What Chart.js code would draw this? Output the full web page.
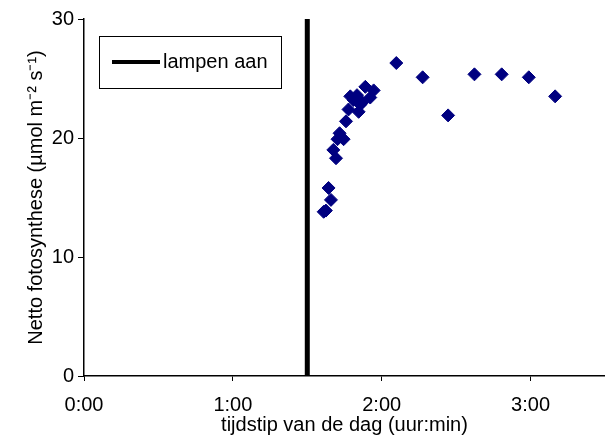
<!DOCTYPE html>
<html>
<head>
<meta charset="utf-8">
<script src="https://cdn.jsdelivr.net/npm/chart.js@4/dist/chart.umd.min.js"></script>
<style>
  html, body { margin: 0; padding: 0; background: #ffffff; overflow: hidden; }
  canvas { display: block; }
</style>
</head>
<body>
<canvas id="c" width="605" height="437" style="width:605px;height:437px"></canvas>
<script>
// time of day in hours (decimal)
const times = [1.610, 1.625, 1.643, 1.659, 1.675, 1.693, 1.703, 1.717, 1.744, 1.760,
               1.777, 1.789, 1.811, 1.834, 1.845, 1.856, 1.870, 1.890, 1.923, 1.946,
               2.098, 2.275, 2.446, 2.623, 2.806, 2.988, 3.165];
// net photosynthesis (µmol m-2 s-1)
const netPhoto = [13.8, 13.9, 15.8, 14.8, 19.0, 18.3, 19.9, 20.4, 19.9, 21.4,
                  22.4, 23.5, 23.2, 23.6, 22.2, 22.8, 23.0, 24.3, 23.4, 24.0,
                  26.3, 25.1, 21.9, 25.35, 25.35, 25.1, 23.5];
// moment the lamps were switched on (hours)
const lampsOnTime = [1.5, 1.5];
const lampsOnLevel = [0, 30];
const lampLabel = 'lampen aan';
const xTickValues = [0, 1, 2, 3];
const yTickValues = [0, 10, 20, 30];
const xTitle = 'tijdstip van de dag (uur:min)';
const yTitle = 'Netto fotosynthese (µmol m⁻² s⁻¹)';

const FONT = "'Liberation Sans', Arial, sans-serif";

function fmtTime(v) {
  const h = Math.floor(v + 1e-9);
  const m = Math.round((v - h) * 60);
  return h + ':' + String(m).padStart(2, '0');
}

const boxLegend = {
  id: 'boxLegend',
  afterDraw(chart) {
    const ctx = chart.ctx;
    const ds = chart.data.datasets[1];
    ctx.save();
    ctx.fillStyle = '#ffffff';
    ctx.fillRect(99.5, 36.5, 182, 52);
    ctx.strokeStyle = '#000000';
    ctx.lineWidth = 1;
    ctx.strokeRect(99.5, 36.5, 182, 52);
    ctx.beginPath();
    ctx.moveTo(112, 62);
    ctx.lineTo(160, 62);
    ctx.lineWidth = 4;
    ctx.strokeStyle = ds.borderColor;
    ctx.stroke();
    ctx.fillStyle = '#000000';
    ctx.font = '20px ' + FONT;
    ctx.textBaseline = 'middle';
    ctx.textAlign = 'left';
    ctx.fillText(ds.label, 163, 62);
    ctx.restore();
  }
};

new Chart(document.getElementById('c'), {
  type: 'scatter',
  data: {
    datasets: [
      {
        label: 'Netto fotosynthese',
        data: times.map((t, i) => ({ x: t, y: netPhoto[i] })),
        pointStyle: 'rectRot',
        pointRadius: 6.5,
        pointHoverRadius: 6.5,
        backgroundColor: '#000080',
        borderColor: '#000080',
        borderWidth: 1
      },
      {
        type: 'line',
        label: lampLabel,
        data: lampsOnTime.map((t, i) => ({ x: t, y: lampsOnLevel[i] })),
        borderColor: '#000000',
        borderWidth: 5,
        pointRadius: 0,
        showLine: true,
        fill: false,
        clip: false
      }
    ]
  },
  options: {
    responsive: false,
    animation: false,
    events: [],
    layout: { autoPadding: false, padding: { top: 19, right: 0, left: 0, bottom: 0 } },
    plugins: {
      legend: { display: false },
      tooltip: { enabled: false }
    },
    scales: {
      x: {
        type: 'linear',
        min: 0,
        max: 3.5,
        afterFit(scale) {
          scale.height = 61;
          scale.paddingLeft = 0;
          scale.paddingRight = 0;
        },
        afterBuildTicks(scale) { scale.ticks = xTickValues.map(v => ({ value: v })); },
        ticks: {
          callback: v => fmtTime(v),
          color: '#000000',
          font: { family: FONT, size: 20 },
          padding: 12,
          maxRotation: 0
        },
        grid: {
          drawOnChartArea: false,
          drawTicks: true,
          tickLength: 5,
          color: '#000000'
        },
        border: { display: true, color: '#000000', width: 1.5 },
        title: {
          display: true,
          text: xTitle,
          color: '#000000',
          font: { family: FONT, size: 20 },
          padding: { top: 0, bottom: 0 }
        }
      },
      y: {
        min: 0,
        max: 30,
        afterFit(scale) {
          scale.width = 84;
          scale.paddingTop = 0;
          scale.paddingBottom = 0;
        },
        afterBuildTicks(scale) { scale.ticks = yTickValues.map(v => ({ value: v })); },
        ticks: {
          color: '#000000',
          font: { family: FONT, size: 20 },
          padding: 4
        },
        grid: {
          drawOnChartArea: false,
          drawTicks: true,
          tickLength: 6,
          color: '#000000'
        },
        border: { display: true, color: '#000000', width: 1.5 },
        title: {
          display: true,
          text: yTitle,
          color: '#000000',
          font: { family: FONT, size: 20 },
          padding: { top: 24, bottom: 0 }
        }
      }
    }
  },
  plugins: [boxLegend]
});
</script>
</body>
</html>
